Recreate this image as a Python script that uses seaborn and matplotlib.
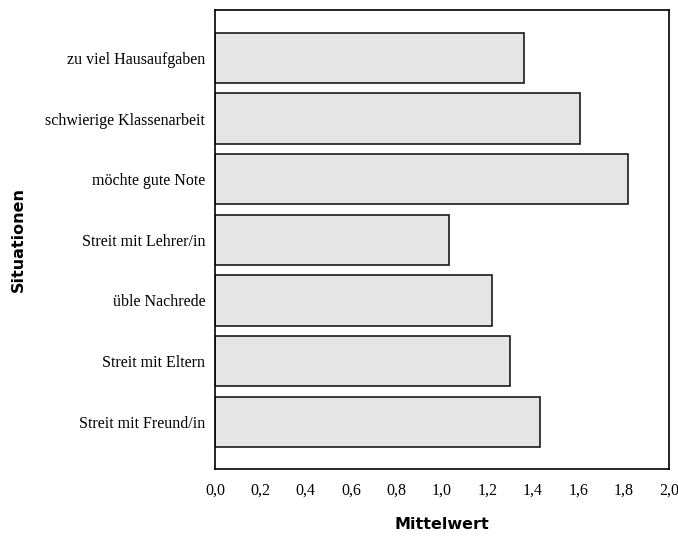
import pandas as pd
import matplotlib.pyplot as plt
import seaborn as sns

# Daten
situationen = ["zu viel Hausaufgaben", "schwierige Klassenarbeit", "möchte gute Note",
               "Streit mit Lehrer/in", "üble Nachrede", "Streit mit Eltern",
               "Streit mit Freund/in"]
mittelwerte = [1.36, 1.61, 1.82, 1.03, 1.22, 1.30, 1.43]
xticks = [0.0, 0.2, 0.4, 0.6, 0.8, 1.0, 1.2, 1.4, 1.6, 1.8, 2.0]
xtick_labels = ["0,0", "0,2", "0,4", "0,6", "0,8", "1,0", "1,2", "1,4", "1,6", "1,8", "2,0"]

df = pd.DataFrame({"Situation": situationen, "Mittelwert": mittelwerte})

sns.set_style("white")
plt.rcParams['font.family'] = ['Liberation Serif', 'DejaVu Serif']
plt.rcParams['text.color'] = 'black'
plt.rcParams['axes.labelcolor'] = 'black'
plt.rcParams['xtick.color'] = 'black'
plt.rcParams['ytick.color'] = 'black'

fig = plt.figure(figsize=(6.78, 5.48), dpi=100)
ax = fig.add_axes([215 / 678, 1 - 469 / 548, 454 / 678, 459 / 548])

sns.barplot(data=df, x="Mittelwert", y="Situation", orient="h", color="#e5e5e5",
            edgecolor="#1a1a1a", linewidth=1.2, width=0.83, saturation=1, ax=ax)

ax.set_xlim(0, 2.0)
ax.set_ylim(6.78, -0.79)
ax.set_xticks(xticks)
ax.set_xticklabels(xtick_labels, fontsize=11.5)
ax.tick_params(axis='x', direction='out', length=5, width=1.2, colors='black', pad=5)
ax.tick_params(axis='y', length=0, pad=7, labelsize=11.5, colors='black')

for s in ax.spines.values():
    s.set_visible(True)
    s.set_color('black')
    s.set_linewidth(1.2)

ax.set_xlabel("Mittelwert", fontsize=11.5, fontweight='bold', family='DejaVu Sans',
              labelpad=13, color='black')
ax.set_ylabel("Situationen", fontsize=11.5, fontweight='bold', family='DejaVu Sans',
              labelpad=14, color='black')

fig.savefig("out.png", dpi=100)
